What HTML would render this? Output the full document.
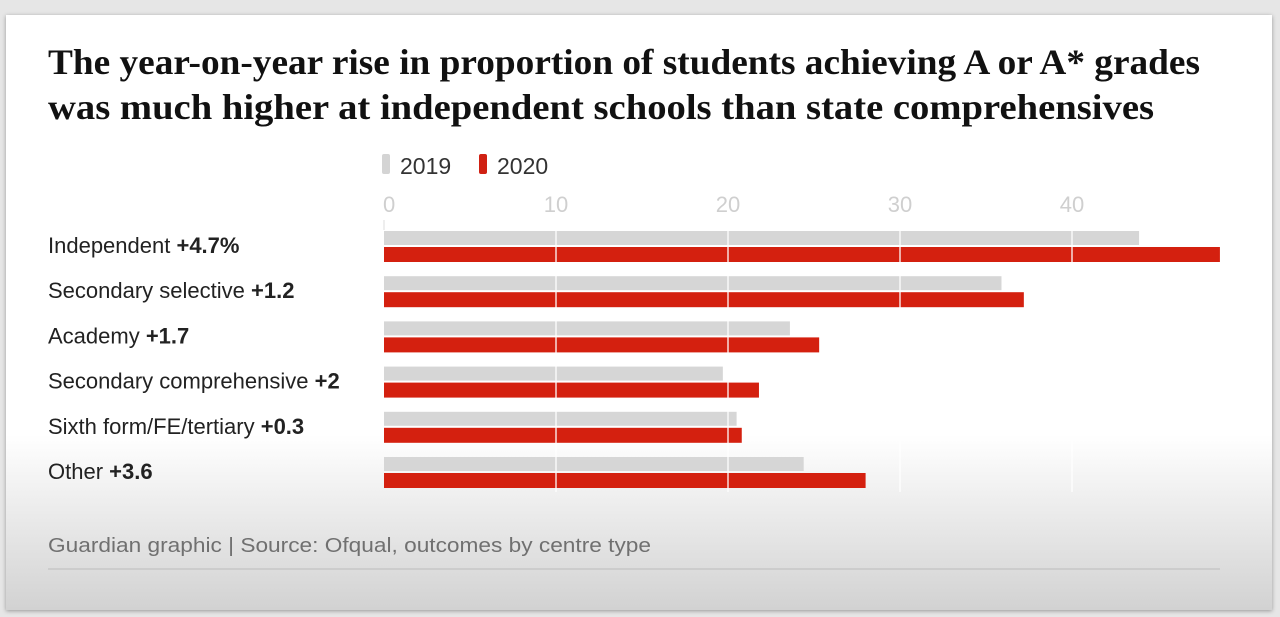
<!DOCTYPE html>
<html><head><meta charset="utf-8"><style>
body{margin:0;width:1280px;height:617px;background:#e6e6e6;overflow:hidden;font-family:"Liberation Sans",sans-serif;}
#card{position:absolute;left:6px;top:15px;width:1266px;height:595px;background:linear-gradient(#fff 0,#fff 420px,#d2d2d2 595px);box-shadow:0 1px 4px rgba(0,0,0,.35);}
</style></head><body>
<div id="card"></div>
<svg id="chart" width="1280" height="617" style="position:absolute;left:0;top:0">
<g font-family="Liberation Serif, serif" font-weight="bold" font-size="36" fill="#111">
<text x="48" y="74" textLength="1152" lengthAdjust="spacingAndGlyphs">The year-on-year rise in proportion of students achieving A or A* grades</text>
<text x="48" y="119" textLength="1106" lengthAdjust="spacingAndGlyphs">was much higher at independent schools than state comprehensives</text>
</g>
</svg>
<script>
const categories=["Independent","Secondary selective","Academy","Secondary comprehensive","Sixth form/FE/tertiary","Other"];
const changes=["+4.7%","+1.2","+1.7","+2","+0.3","+3.6"];
const values2019=[43.9,35.9,23.6,19.7,20.5,24.4];
const values2020=[48.6,37.2,25.3,21.8,20.8,28.0];
const ticks=[0,10,20,30,40];
const NS="http://www.w3.org/2000/svg";
const svg=document.getElementById('chart');
const x0=384,pxPer=17.2;
const xs=v=>x0+v*pxPer;
const rowY=i=>231+i*45.2;
function mk(t,a,txt){const e=document.createElementNS(NS,t);for(const k in a)e.setAttribute(k,a[k]);if(txt!==undefined)e.textContent=txt;svg.appendChild(e);return e;}
let e=mk('rect',{x:382,y:154,width:8,height:20,rx:2,fill:'#d4d4d4'});

e=mk('text',{x:400,y:174,'font-size':23,fill:'#333'},'2019');

e=mk('rect',{x:479,y:154,width:8,height:20,rx:2,fill:'#d02113'});

e=mk('text',{x:497,y:174,'font-size':23,fill:'#333'},'2020');

ticks.forEach(t=>{
 const x=xs(t);
 e=mk('text',{x:t===0?x-1:x,y:212,'font-size':22,fill:'#cfcfcf','text-anchor':t===0?'start':'middle'},String(t));
 
});
categories.forEach((c,i)=>{
 const y=rowY(i);
 e=mk('rect',{x:x0,y:y,width:xs(values2019[i])-x0,height:14,fill:'#d6d6d6'});
 
 e=mk('rect',{x:x0,y:y+16,width:xs(values2020[i])-x0,height:15,fill:'#d4200f'});
 
 e=mk('text',{x:48,y:y+22,'font-size':22,fill:'#222'});
 
 const t1=document.createElementNS(NS,'tspan');t1.textContent=c+' ';e.appendChild(t1);
 const t2=document.createElementNS(NS,'tspan');t2.setAttribute('font-weight','bold');t2.textContent=changes[i];e.appendChild(t2);
});
ticks.forEach(t=>{
 if(t===0)return;
 e=mk('line',{x1:xs(t),x2:xs(t),y1:222,y2:492,stroke:'#fff','stroke-width':1.5,opacity:0.85});
 
});
e=mk('line',{x1:x0,x2:x0,y1:220,y2:230,stroke:'#ddd','stroke-width':1});

e=mk('text',{x:48,y:552,'font-size':20,fill:'#707070',textLength:603,lengthAdjust:'spacingAndGlyphs'},'Guardian graphic | Source: Ofqual, outcomes by centre type');

e=mk('line',{x1:48,x2:1220,y1:569,y2:569,stroke:'#bbb','stroke-width':1});

</script>
</body></html>
